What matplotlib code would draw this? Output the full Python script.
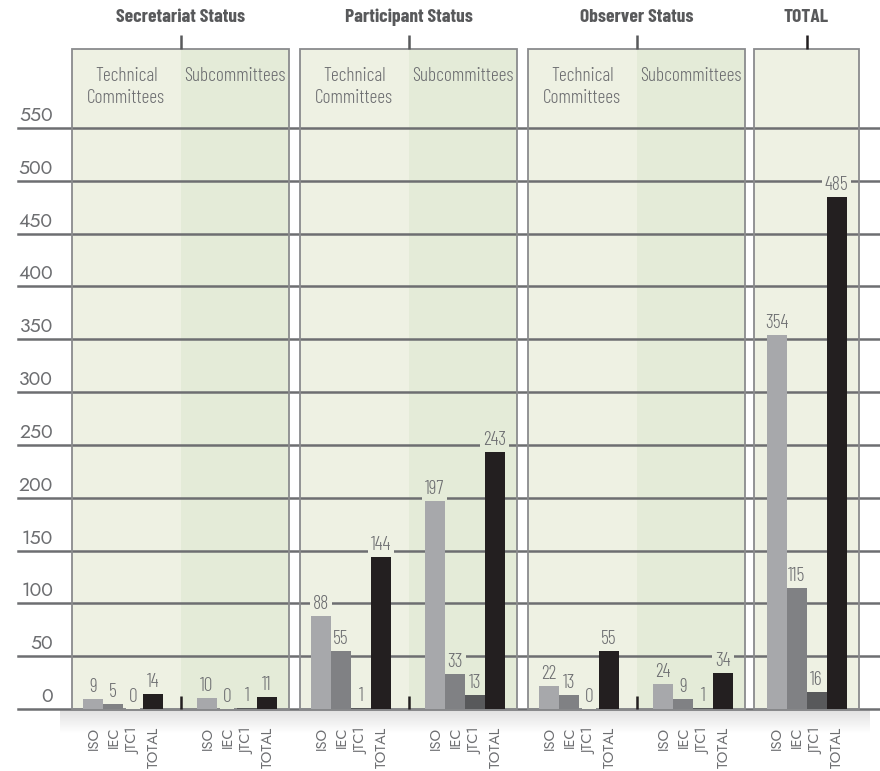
import numpy as np
import matplotlib.pyplot as plt
from matplotlib.patches import Rectangle

# data
groups = ["Secretariat Status", "Participant Status", "Observer Status", "TOTAL"]
halves = ["Technical\nCommittees", "Subcommittees"]
bodies = ["ISO", "IEC", "JTC1", "TOTAL"]

secretariat_tc = [9, 5, 0, 14]
secretariat_sc = [10, 0, 1, 11]
participant_tc = [88, 55, 1, 144]
participant_sc = [197, 33, 13, 243]
observer_tc = [22, 13, 0, 55]
observer_sc = [24, 9, 1, 34]
total_all = [354, 115, 16, 485]

yticks = list(range(0, 551, 50))

# layout (pixels of the 880x771 picture)
W, H = 880, 771
BASE = 709          # pixel row of value 0
PX = 581 / 550      # pixels per unit
panel_left = [72, 300, 528, 754]
panel_w = [217, 217, 217, 105]
PANEL_TOP = 49
BAR_W = 20

bar_colors = ["#a7a8ab", "#808184", "#58595b", "#231f20"]
light_bg = "#eef1e3"
dark_bg = "#e4ebd8"
text_grey = "#6d6e71"
COND = ["Barlow Condensed", "DejaVu Sans"]
GEO = ["Jost", "DejaVu Sans"]


def v(py):
    # pixel row -> data value
    return (BASE - py) / PX


fig = plt.figure(figsize=(W / 100, H / 100), dpi=100)
ax = fig.add_axes([0, 0, 1, 1])
ax.set_xlim(0, W)
ax.set_ylim(v(H), v(0))
ax.axis("off")

# panels
for i, (left, w) in enumerate(zip(panel_left, panel_w)):
    if i < 3:
        ax.add_patch(Rectangle((left, 0), w / 2, v(PANEL_TOP), fc=light_bg, ec="none", zorder=1))
        ax.add_patch(Rectangle((left + w / 2, 0), w / 2, v(PANEL_TOP), fc=dark_bg, ec="none", zorder=1))
    else:
        ax.add_patch(Rectangle((left, 0), w, v(PANEL_TOP), fc=light_bg, ec="none", zorder=1))
    ax.add_patch(Rectangle((left, 0), w, v(PANEL_TOP), fc="none", ec="#8a8b8d", lw=1.3, zorder=2.5))
    cx = left + w / 2
    ax.text(cx, v(17), groups[i], ha="center", va="center", fontsize=14,
            fontweight="bold", color="#58595b", family=COND)
    ax.plot([cx, cx], [v(35), v(PANEL_TOP)], color="#58595b" if i < 3 else "#231f20",
            lw=1.8, solid_capstyle="butt", zorder=3)
    if i < 3:
        ax.text(left + w / 4, v(67), halves[0], ha="center", va="top", fontsize=14,
                fontweight=300, color=text_grey, family=COND, linespacing=1.3)
        ax.text(left + 3 * w / 4, v(67), halves[1], ha="center", va="top", fontsize=14,
                fontweight=300, color=text_grey, family=COND)
        # small divider tick at baseline
        ax.plot([cx, cx], [0, v(696)], color="#231f20", lw=1.8, solid_capstyle="butt", zorder=3)

# gridlines and y labels
for t in yticks:
    ax.plot([18, W], [t, t], color=text_grey, lw=1.8, zorder=2)
    ax.text(53, t + 3 / PX, str(t), ha="right", va="bottom", fontsize=14,
            color=text_grey, family=GEO)

# shadow below baseline
grad = np.zeros((30, 1, 4))
grad[:, 0, 3] = np.linspace(0.12, 0.0, 30)
ax.imshow(grad, extent=[60, 870, v(734), v(710)], aspect="auto", zorder=0.5, interpolation="bilinear")

# bars
series = [
    (0, 0.235, secretariat_tc, light_bg), (0, 0.76, secretariat_sc, dark_bg),
    (1, 0.235, participant_tc, light_bg), (1, 0.76, participant_sc, dark_bg),
    (2, 0.235, observer_tc, light_bg), (2, 0.76, observer_sc, dark_bg),
    (3, 0.5, total_all, light_bg),
]
offsets = (np.arange(len(bodies)) - 1.5) * BAR_W
for pi, frac, vals, bg in series:
    center = panel_left[pi] + frac * panel_w[pi]
    xs = center + offsets
    ax.bar(xs, vals, width=BAR_W, color=bar_colors, zorder=4)
    for x, val in zip(xs, vals):
        ax.text(x, val + 3 / PX, str(val), ha="center", va="bottom", fontsize=14,
                fontweight=300, color=text_grey, family=COND, zorder=3.5,
                bbox=dict(boxstyle="square,pad=0.15", fc=bg, ec="none"))
    for x, lab in zip(xs, bodies):
        ax.text(x, v(727), lab, ha="center", va="top", rotation=90, fontsize=10.5,
                color=text_grey, family=GEO)

fig.savefig("out.png", dpi=100)
